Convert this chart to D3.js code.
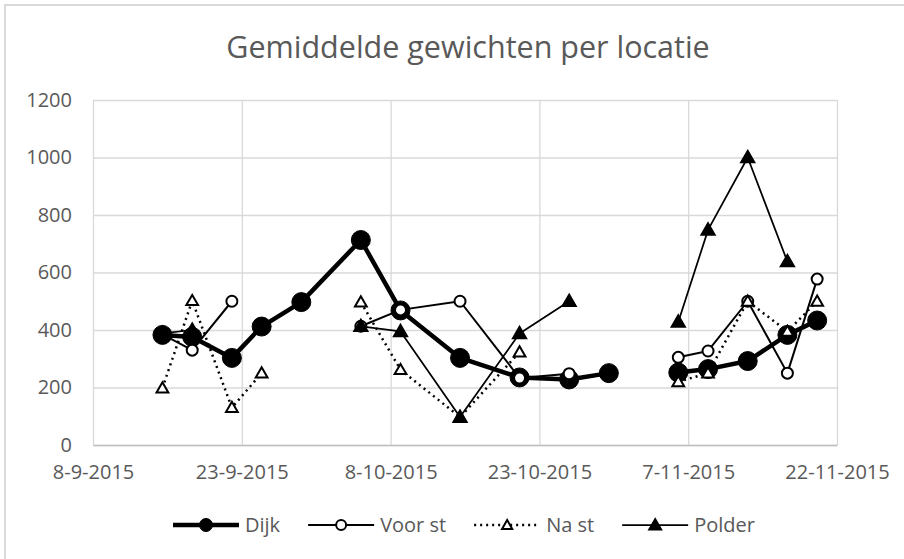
<!DOCTYPE html>
<html>
<head>
<meta charset="utf-8">
<script src="https://cdn.jsdelivr.net/npm/d3@7"></script>
<style>
  body { margin: 0; background: #fff; }
  svg { display: block; font-family: "Open Sans", sans-serif; }
</style>
</head>
<body>
<div id="chart"></div>
<script>
// measurement dates (shared category axis, null = no value that day)
const dates = ["2015-09-15", "2015-09-18", "2015-09-22", "2015-09-25", "2015-09-29",
  "2015-10-05", "2015-10-09", "2015-10-15", "2015-10-21", "2015-10-26", "2015-10-30",
  "2015-11-02",
  "2015-11-06", "2015-11-09", "2015-11-13", "2015-11-17", "2015-11-20"];

const dijk   = [383, 376, 303, 412, 497, 713, 468, 303, 235, 228, 250, null, 252, 264, 292, 383, 433];
const voorSt = [385, 330, 500, null, null, 413, 470, 500, 233, 248, null, null, 305, 327, 500, 250, 577];
const naSt   = [198, 502, 130, 250, null, 497, 262, 97, 323, null, null, null, 220, 250, 500, 395, 500];
const polder = [388, 400, null, null, null, 413, 395, 97, 388, 500, null, null, 428, 748, 1000, 638, null];

const yTicks = [0, 200, 400, 600, 800, 1000, 1200];
const xTicks = ["2015-09-08", "2015-09-23", "2015-10-08", "2015-10-23", "2015-11-07", "2015-11-22"];

const title = "Gemiddelde gewichten per locatie";

const width = 904, height = 559;
const margin = {top: 100, right: 67, bottom: 114, left: 93};
const parse = d3.timeParse("%Y-%m-%d");
const fmt = d3.timeFormat("%-d-%-m-%Y");

// series look, roughly like the excel styles
const series = [
  {name: "Dijk",    values: dijk,   width: 4.5, dash: null,  marker: "circle",   r: 9.5, fill: "#000", legendR: 6.5},
  {name: "Voor st", values: voorSt, width: 2,   dash: null,  marker: "circle",   r: 5.5, fill: "#fff", legendR: 5},
  {name: "Na st",   values: naSt,   width: 2.5, dash: "2,4", marker: "triangle", r: 60,  fill: "#fff", legendR: 45},
  {name: "Polder",  values: polder, width: 1.75, dash: null, marker: "triangle", r: 85,  fill: "#000", legendR: 70}
];

const x = d3.scaleTime()
  .domain([parse(xTicks[0]), parse(xTicks[xTicks.length - 1])])
  .range([margin.left, width - margin.right]);

const y = d3.scaleLinear()
  .domain([0, 1200])
  .range([height - margin.bottom, margin.top]);

const svg = d3.select("#chart")
  .append("svg")
  .attr("width", width)
  .attr("height", height);

svg.append("rect")
  .attr("width", width)
  .attr("height", height)
  .attr("fill", "#fff");

// chart frame, right and bottom edge fall outside the picture
svg.append("rect")
  .attr("x", 5)
  .attr("y", 5)
  .attr("width", 1200)
  .attr("height", 1200)
  .attr("fill", "none")
  .attr("stroke", "#d9d9d9")
  .attr("stroke-width", 2);

svg.append("text")
  .attr("x", 468)
  .attr("y", 58)
  .attr("text-anchor", "middle")
  .attr("font-size", 30.5)
  .attr("fill", "#595959")
  .text(title);

// gridlines
const plotW = width - margin.left - margin.right;
const plotH = height - margin.top - margin.bottom;

svg.append("g")
  .attr("transform", `translate(${margin.left},0)`)
  .call(d3.axisLeft(y).tickValues(yTicks).tickSize(-plotW).tickFormat(""))
  .call(g => g.select(".domain").remove())
  .call(g => g.selectAll("line").attr("stroke", "#d9d9d9").attr("stroke-width", 1.3));

svg.append("g")
  .attr("transform", `translate(0,${margin.top})`)
  .call(d3.axisBottom(x).tickValues(xTicks.map(parse)).tickSize(plotH).tickFormat(""))
  .call(g => g.select(".domain").remove())
  .call(g => g.selectAll("line").attr("stroke", "#d9d9d9").attr("stroke-width", 1.3));

// axis labels
svg.append("g")
  .attr("transform", `translate(${margin.left},0)`)
  .call(d3.axisLeft(y).tickValues(yTicks).tickSize(0).tickPadding(21).tickFormat(d3.format("d")))
  .call(g => g.select(".domain").remove())
  .call(g => g.selectAll("text")
    .attr("font-family", "Open Sans")
    .attr("font-size", 20)
    .attr("fill", "#595959"));

svg.append("g")
  .attr("transform", `translate(0,${height - margin.bottom})`)
  .call(d3.axisBottom(x).tickValues(xTicks.map(parse)).tickSize(0).tickPadding(20).tickFormat(fmt))
  .call(g => g.select(".domain").attr("stroke", "#bfbfbf").attr("stroke-width", 1.3))
  .call(g => g.selectAll("text")
    .attr("font-family", "Open Sans")
    .attr("font-size", 20)
    .attr("fill", "#595959"));

const line = d3.line()
  .defined(d => d.v != null)
  .x(d => x(d.date))
  .y(d => y(d.v));

const drawMarker = (g, s, px, py, size) => {
  if (s.marker === "circle") {
    g.append("circle")
      .attr("cx", px)
      .attr("cy", py)
      .attr("r", size)
      .attr("fill", s.fill)
      .attr("stroke", "#000")
      .attr("stroke-width", s.fill === "#fff" ? 2 : 1);
  } else {
    g.append("path")
      .attr("d", d3.symbol(d3.symbolTriangle, size)())
      .attr("transform", `translate(${px},${py + 1})`)
      .attr("fill", s.fill)
      .attr("stroke", "#000")
      .attr("stroke-width", s.fill === "#fff" ? 2 : 1.5);
  }
};

series.forEach(s => {
  const pts = dates.map((d, i) => ({date: parse(d), v: s.values[i]}));
  const g = svg.append("g").attr("class", "series");

  g.append("path")
    .datum(pts)
    .attr("d", line)
    .attr("fill", "none")
    .attr("stroke", "#000")
    .attr("stroke-width", s.width)
    .attr("stroke-dasharray", s.dash)
    .attr("stroke-linejoin", "round");

  pts.filter(p => p.v != null).forEach(p => drawMarker(g, s, x(p.date), y(p.v), s.r));
});

// legend, laid out left to right and centred under the plot
const legend = svg.append("g").attr("class", "legend");
const legendY = 525;
let lx = 0;
series.forEach(s => {
  const item = legend.append("g").attr("transform", `translate(${lx},${legendY})`);
  item.append("line")
    .attr("x1", 0)
    .attr("x2", 66)
    .attr("stroke", "#000")
    .attr("stroke-width", s.width)
    .attr("stroke-dasharray", s.dash);
  drawMarker(item, s, 33, 0, s.legendR);
  const t = item.append("text")
    .attr("x", 72)
    .attr("dy", "0.35em")
    .attr("font-size", 20)
    .attr("fill", "#595959")
    .text(s.name);
  lx += 72 + t.node().getComputedTextLength() + 28;
});
legend.attr("transform", `translate(${173},0)`);
</script>
</body>
</html>
